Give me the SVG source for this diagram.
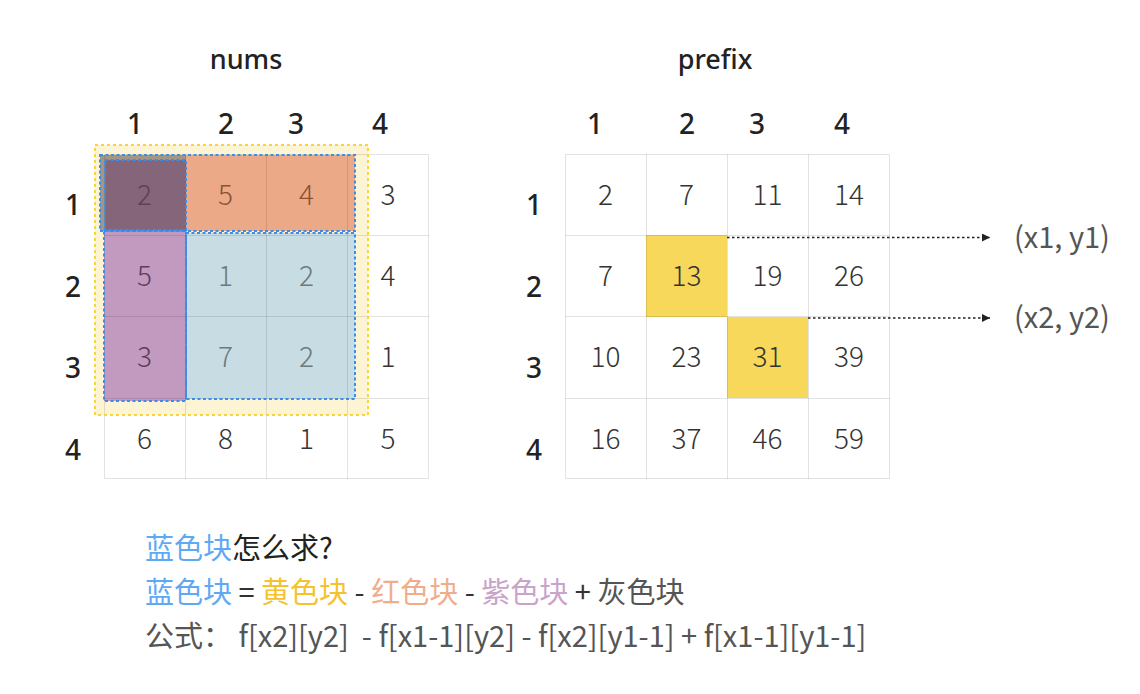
<svg xmlns="http://www.w3.org/2000/svg" width="1140" height="694" viewBox="0 0 1140 694">
<style>
.title{font-family:"Noto Sans","Noto Sans CJK SC",sans-serif;font-size:27px;font-weight:500;fill:#222;text-anchor:middle;}
.hd{font-family:"Noto Sans","Noto Sans CJK SC",sans-serif;font-size:28px;font-weight:500;fill:#222;text-anchor:middle;}
.num{font-family:"Noto Sans CJK SC","Noto Sans",sans-serif;font-size:28px;font-weight:300;fill:#333;text-anchor:middle;}
.gl{stroke:#000;stroke-opacity:0.11;stroke-width:1;fill:none;}
.bd{fill:none;stroke:#3a8de9;stroke-width:2;stroke-dasharray:3 2.5;}
.yd{fill:none;stroke:#f8d443;stroke-width:2;stroke-dasharray:3 3;}
.lbl{font-family:"Noto Sans CJK SC","Noto Sans",sans-serif;font-size:29px;fill:#555;}
.txt{font-family:"Noto Sans CJK SC",sans-serif;font-size:29px;white-space:pre;}
.arr{stroke:#222;stroke-width:1.5;stroke-dasharray:2.5 2.5;fill:none;}
</style>
<defs>
<marker id="ah" markerWidth="10" markerHeight="10" refX="8" refY="4" orient="auto" markerUnits="userSpaceOnUse">
<path d="M0,0 L8,4 L0,8 Z" fill="#222"/>
</marker>
</defs>
<rect x="0" y="0" width="1140" height="694" fill="#fff"/>

<g id="titles">
<text class="title" x="246" y="69">nums</text>
<text class="title" x="715" y="69">prefix</text>
</g>

<g id="nums-headers">
<text class="hd" x="135" y="134">1</text>
<text class="hd" x="226" y="134">2</text>
<text class="hd" x="296" y="134">3</text>
<text class="hd" x="380" y="134">4</text>
<text class="hd" x="73" y="215">1</text>
<text class="hd" x="73" y="297">2</text>
<text class="hd" x="73" y="378">3</text>
<text class="hd" x="73" y="460">4</text>
</g>

<g id="nums-grid">
<rect x="104" y="154" width="325" height="325" fill="#fff"/>
<rect id="yellow-block" x="95" y="145" width="273" height="270" fill="#fdf4d4"/>
<rect id="red-block" x="100" y="155" width="255" height="76" fill="#eba987"/>
<rect id="purple-block" x="104" y="231" width="82" height="170" fill="#c29ac0"/>
<rect id="blue-block" x="186" y="233" width="169" height="166" fill="#c8dde3"/>
<rect id="gray-strip" x="100" y="155" width="86" height="76" fill="#a49684"/>
<rect id="gray-block" x="105" y="160" width="81" height="71" fill="#85657a"/>
<path class="gl" d="M104.5,154.5 H428.5 V478.5 H104.5 Z M185.5,154 V479 M266.5,154 V479 M347.5,154 V479 M104,235.5 H429 M104,316.5 H429 M104,398.5 H429"/>
<rect class="yd" x="95" y="145" width="273" height="270"/>
<rect class="bd" x="100" y="155" width="255" height="76"/>
<rect class="bd" x="105" y="160" width="81" height="70"/>
<rect class="bd" x="104" y="231" width="82" height="170"/>
<rect class="bd" x="186" y="233" width="169" height="166"/>
<text class="num" x="144.5" y="205" style="fill:#5c4256">2</text>
<text class="num" x="225.5" y="205" style="fill:#8c5233">5</text>
<text class="num" x="306.5" y="205" style="fill:#8c5233">4</text>
<text class="num" x="388" y="205">3</text>
<text class="num" x="144.5" y="286" style="fill:#5e3c5b">5</text>
<text class="num" x="225.5" y="286" style="fill:#6c7a7d">1</text>
<text class="num" x="306.5" y="286" style="fill:#6c7a7d">2</text>
<text class="num" x="388" y="286">4</text>
<text class="num" x="144.5" y="367" style="fill:#5e3c5b">3</text>
<text class="num" x="225.5" y="367" style="fill:#6c7a7d">7</text>
<text class="num" x="306.5" y="367" style="fill:#6c7a7d">2</text>
<text class="num" x="388" y="367">1</text>
<text class="num" x="144.5" y="449">6</text>
<text class="num" x="225.5" y="449">8</text>
<text class="num" x="306.5" y="449">1</text>
<text class="num" x="388" y="449">5</text>
</g>

<g id="prefix-headers">
<text class="hd" x="595" y="134">1</text>
<text class="hd" x="687" y="134">2</text>
<text class="hd" x="757" y="134">3</text>
<text class="hd" x="842" y="134">4</text>
<text class="hd" x="534" y="215">1</text>
<text class="hd" x="534" y="297">2</text>
<text class="hd" x="534" y="378">3</text>
<text class="hd" x="534" y="460">4</text>
</g>

<g id="prefix-grid">
<rect x="565" y="154" width="325" height="325" fill="#fff"/>
<rect id="p-x1y1" x="646" y="235" width="81" height="82" fill="#f7d85b"/>
<rect id="p-x2y2" x="727" y="317" width="81" height="81" fill="#f7d85b"/>
<path class="gl" d="M565.5,154.5 H889.5 V478.5 H565.5 Z M646.5,154 V479 M727.5,154 V479 M808.5,154 V479 M565,235.5 H890 M565,316.5 H890 M565,398.5 H890"/>
<text class="num" x="605.5" y="205">2</text>
<text class="num" x="686.5" y="205">7</text>
<text class="num" x="767.5" y="205">11</text>
<text class="num" x="849" y="205">14</text>
<text class="num" x="605.5" y="286">7</text>
<text class="num" x="686.5" y="286">13</text>
<text class="num" x="767.5" y="286">19</text>
<text class="num" x="849" y="286">26</text>
<text class="num" x="605.5" y="367">10</text>
<text class="num" x="686.5" y="367">23</text>
<text class="num" x="767.5" y="367">31</text>
<text class="num" x="849" y="367">39</text>
<text class="num" x="605.5" y="449">16</text>
<text class="num" x="686.5" y="449">37</text>
<text class="num" x="767.5" y="449">46</text>
<text class="num" x="849" y="449">59</text>
</g>

<g id="connectors">
<line class="arr" x1="727" y1="237.5" x2="990" y2="237.5" marker-end="url(#ah)"/>
<line class="arr" x1="808" y1="318" x2="990" y2="318" marker-end="url(#ah)"/>
</g>

<g id="point-labels">
<text class="lbl" x="1014" y="248">(x1, y1)</text>
<text class="lbl" x="1014" y="328">(x2, y2)</text>
</g>

<g id="explanation">
<text class="txt" x="145" y="559"><tspan fill="#5fa9f4">蓝色块</tspan><tspan fill="#222">怎么求?</tspan></text>
<text class="txt" x="145" y="603"><tspan fill="#5fa9f4">蓝色块</tspan><tspan fill="#333"> = </tspan><tspan fill="#f4c22e">黄色块</tspan><tspan fill="#333"> - </tspan><tspan fill="#f0ad8b">红色块</tspan><tspan fill="#333"> - </tspan><tspan fill="#c9a3ca">紫色块</tspan><tspan fill="#333"> + </tspan><tspan fill="#555">灰色块</tspan></text>
<text class="txt" x="145" y="647" fill="#555">公式： f[x2][y2]  - f[x1-1][y2] - f[x2][y1-1] + f[x1-1][y1-1]</text>
</g>
</svg>
